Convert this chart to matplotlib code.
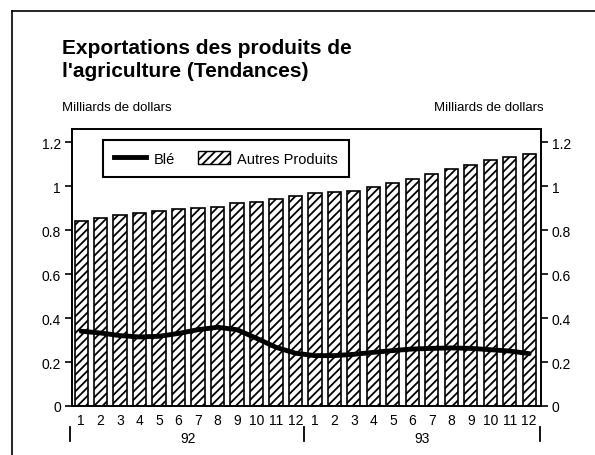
import numpy as np
import matplotlib.pyplot as plt
from matplotlib.lines import Line2D
from matplotlib.patches import Patch
import matplotlib.transforms as mtransforms

plt.rcParams['font.family'] = ['Liberation Sans', 'DejaVu Sans']
plt.rcParams['hatch.linewidth'] = 1.3

# données (milliards de dollars)
mois = ['1', '2', '3', '4', '5', '6', '7', '8', '9', '10', '11', '12'] * 2
annees = ['92', '93']
autres_produits = [0.842, 0.855, 0.870, 0.879, 0.886, 0.894, 0.900, 0.906, 0.921, 0.930, 0.942, 0.953,
                   0.970, 0.975, 0.980, 0.994, 1.012, 1.033, 1.056, 1.077, 1.097, 1.120, 1.133, 1.147]
ble = [0.340, 0.332, 0.320, 0.314, 0.317, 0.330, 0.347, 0.358, 0.347, 0.308, 0.267, 0.240,
       0.229, 0.229, 0.235, 0.244, 0.252, 0.259, 0.262, 0.264, 0.262, 0.256, 0.250, 0.238]
yticks = [0, 0.2, 0.4, 0.6, 0.8, 1, 1.2]

fig = plt.figure(figsize=(5.95, 4.56), dpi=100)
ax = fig.add_axes([0.121, 0.1075, 0.788, 0.6075])

x = np.arange(len(mois))
ax.bar(x, autres_produits, width=0.68, color='white', edgecolor='black',
       hatch='////', linewidth=1.2, zorder=2)
ax.plot(x, ble, color='black', linewidth=3.5, solid_capstyle='round',
        solid_joinstyle='round', zorder=3)

ax.set_xlim(-0.47, 23.6)
ax.set_ylim(0, 1.26)
ax.set_yticks(yticks)
ax.set_yticklabels([f'{v:g}' for v in yticks])
ax.set_xticks(x)
ax.set_xticklabels(mois)
ax.tick_params(axis='x', length=0, pad=5, labelsize=10)
ax.tick_params(axis='y', direction='out', length=5, width=1.2, labelsize=10,
               right=True, labelright=True, pad=3)
for s in ax.spines.values():
    s.set_linewidth(1.4)

# années et séparateurs sous l'axe
trans = mtransforms.blended_transform_factory(ax.transData, ax.transAxes)
ax.text(5.5, -0.115, annees[0], transform=trans, ha='center', va='center', fontsize=10)
ax.text(17.5, -0.115, annees[1], transform=trans, ha='center', va='center', fontsize=10)
for xs in [-0.55, 11.45, 23.55]:
    ax.plot([xs, xs], [-0.075, -0.125], transform=trans, color='black',
            linewidth=1.3, clip_on=False)

handles = [Line2D([0], [0], color='black', linewidth=3.5),
           Patch(facecolor='white', edgecolor='black', hatch='////')]
leg = ax.legend(handles, ['Blé', 'Autres Produits'], ncol=2, loc='upper left',
                bbox_to_anchor=(0.051, 0.985), fancybox=False, framealpha=1,
                fontsize=10.5, handlelength=2.2, handleheight=1.0, columnspacing=1.6,
                borderpad=0.75, handletextpad=0.5)
leg.get_frame().set_edgecolor('black')
leg.get_frame().set_linewidth(1.5)

# titres
fig.text(0.104, 0.868, "Exportations des produits de\nl'agriculture (Tendances)",
         fontsize=15, fontweight='bold', ha='left', va='center', linespacing=1.25)
fig.text(0.104, 0.763, 'Milliards de dollars', fontsize=9.5, ha='left', va='center')
fig.text(0.913, 0.763, 'Milliards de dollars', fontsize=9.5, ha='right', va='center')

# cadre de la page
fig.add_artist(Line2D([12 / 595, 12 / 595], [0, 1 - 12 / 456], color='black',
                      linewidth=1.2, transform=fig.transFigure))
fig.add_artist(Line2D([12 / 595, 1], [1 - 12 / 456, 1 - 12 / 456], color='black',
                      linewidth=1.2, transform=fig.transFigure))

fig.savefig('out.png', dpi=100)
